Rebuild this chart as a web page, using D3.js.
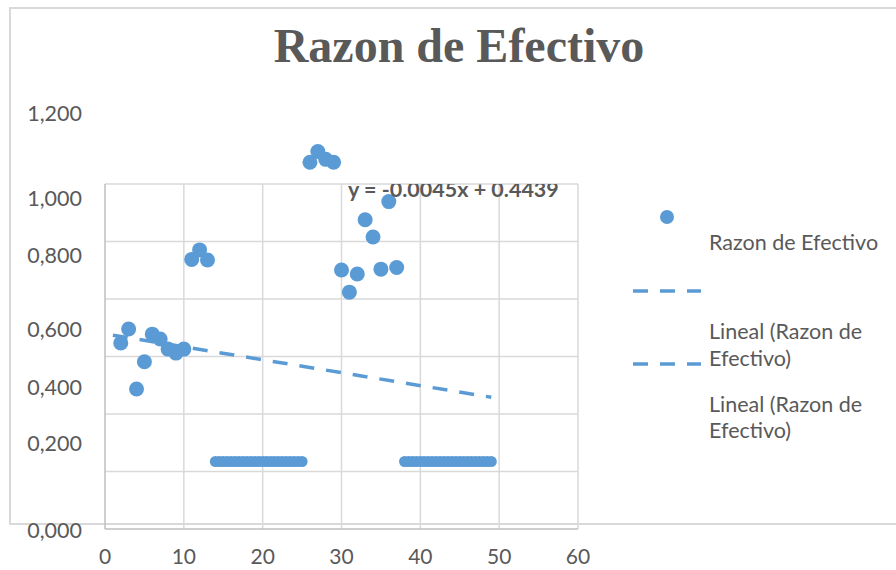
<!DOCTYPE html>
<html><head><meta charset="utf-8">
<script src="https://cdn.jsdelivr.net/npm/d3@7"></script>
<style>html,body{margin:0;padding:0;background:#fff;}svg{display:block;}</style>
</head><body>
<svg id="chart" width="896" height="570"></svg>
<script>
// ---- data ----
const title = "Razon de Efectivo";
const seriesName = "Razon de Efectivo";
const equation = "y = -0.0045x + 0.4439";
const trendSlope = -0.0045, trendIntercept = 0.4439;
const trendRange = [1, 49];
const pointX = [2,3,4,5,6,7,8,9,10,11,12,13,26,27,28,29,30,31,32,33,34,35,36,37];
const pointY = [0.412,0.461,0.252,0.347,0.443,0.426,0.391,0.377,0.391,0.703,0.736,0.701,
                1.041,1.078,1.051,1.041,0.666,0.589,0.652,0.841,0.781,0.669,0.904,0.675];
const zeroX = [14,14.5,15,15.5,16,16.5,17,17.5,18,18.5,19,19.5,20,20.5,21,21.5,22,22.5,23,23.5,24,24.5,25,
               38,38.5,39,39.5,40,40.5,41,41.5,42,42.5,43,43.5,44,44.5,45,45.5,46,46.5,47,47.5,48,48.5,49];
const zeroY = zeroX.map(() => 0);
const xTicks = [0,10,20,30,40,50,60];
const yTickValues = [0,0.2,0.4,0.6,0.8,1.0,1.2];
const yTickLabels = ["0,000","0,200","0,400","0,600","0,800","1,000","1,200"];
const trendLines = ["Lineal (Razon de", "Efectivo)"];

// ---- layout ----
const svg = d3.select("#chart");
const L = 105, R = 578, T = 184, B = 529;
const blue = "#5b9bd5", grey = "#595959";
const font = "Lato, 'Open Sans', sans-serif";
const fs = 21.5;

const x = d3.scaleLinear().domain([0, 60]).range([L, R]);
const yMin = -0.2348;
const y = d3.scaleLinear().domain([yMin, yMin + 1.2]).range([B, T]);
// tick labels sit at their own (offset) places in the reference
const yLab = d3.scaleLinear().domain(yTickValues).range([530, 443, 387, 329, 255, 198, 113]);

// outer chart frame
svg.append("rect").attr("x", 10).attr("y", 8).attr("width", 900).attr("height", 516)
  .attr("fill", "none").attr("stroke", "#d9d9d9").attr("stroke-width", 2);

// grid
const gridY = d3.range(0, 7).map(i => yMin + i * 0.2);
svg.append("g").selectAll("line.h").data(gridY.slice(1)).join("line")
  .attr("x1", L).attr("x2", R).attr("y1", d => y(d)).attr("y2", d => y(d))
  .attr("stroke", "#d9d9d9").attr("stroke-width", 1.5);
svg.append("g").selectAll("line.v").data(xTicks.slice(1)).join("line")
  .attr("x1", d => x(d)).attr("x2", d => x(d)).attr("y1", T).attr("y2", B)
  .attr("stroke", "#d9d9d9").attr("stroke-width", 1.5);
// axes lines
svg.append("line").attr("x1", L).attr("x2", R).attr("y1", B).attr("y2", B)
  .attr("stroke", "#bfbfbf").attr("stroke-width", 1.5);
svg.append("line").attr("x1", L).attr("x2", L).attr("y1", T).attr("y2", B)
  .attr("stroke", "#bfbfbf").attr("stroke-width", 1.5);

// tick labels
svg.append("g").selectAll("text").data(xTicks).join("text")
  .attr("x", d => x(d)).attr("y", 564).attr("text-anchor", "middle")
  .attr("font-family", font).attr("font-size", 21).attr("fill", grey).text(d => d);
svg.append("g").selectAll("text").data(yTickValues).join("text")
  .attr("x", 82).attr("y", d => yLab(d)).attr("dy", "0.35em").attr("text-anchor", "end")
  .attr("font-family", font).attr("font-size", fs).attr("fill", grey)
  .text((d, i) => yTickLabels[i]);

// title
svg.append("text").attr("x", 459).attr("y", 62).attr("text-anchor", "middle")
  .attr("font-family", "'Liberation Serif', 'Times New Roman', serif").attr("font-weight", "bold")
  .attr("font-size", 48).attr("fill", grey).text(title);

// trendline
svg.append("line")
  .attr("x1", x(trendRange[0])).attr("y1", y(trendSlope * trendRange[0] + trendIntercept))
  .attr("x2", x(trendRange[1])).attr("y2", y(trendSlope * trendRange[1] + trendIntercept))
  .attr("stroke", blue).attr("stroke-width", 3.5).attr("stroke-dasharray", "15,12");

// points
svg.append("g").selectAll("circle").data(zeroX.map((d, i) => [d, zeroY[i]])).join("circle")
  .attr("cx", d => x(d[0])).attr("cy", d => y(d[1])).attr("r", 5.5).attr("fill", blue);
svg.append("g").selectAll("circle").data(pointX.map((d, i) => [d, pointY[i]])).join("circle")
  .attr("cx", d => x(d[0])).attr("cy", d => y(d[1])).attr("r", 7.5).attr("fill", blue);

// equation label (clipped at plot top)
svg.append("clipPath").attr("id", "plotclip").append("rect")
  .attr("x", L).attr("y", T).attr("width", R - L).attr("height", B - T);
svg.append("text").attr("clip-path", "url(#plotclip)")
  .attr("x", 348).attr("y", 197).attr("font-family", font).attr("font-weight", "bold")
  .attr("font-size", 21.5).attr("fill", grey).text(equation);

// legend
const lg = svg.append("g");
lg.append("circle").attr("cx", 667).attr("cy", 217).attr("r", 7).attr("fill", blue);
lg.append("text").attr("x", 709).attr("y", 242).attr("dy", "0.35em")
  .attr("font-family", font).attr("font-size", fs).attr("fill", grey).text(seriesName);
[291, 364].forEach(yy => {
  lg.append("line").attr("x1", 633).attr("x2", 701).attr("y1", yy).attr("y2", yy)
    .attr("stroke", blue).attr("stroke-width", 3.5).attr("stroke-dasharray", "15,12");
});
[[331, 358], [404, 430]].forEach(pos => {
  trendLines.forEach((t, i) => {
    lg.append("text").attr("x", 709).attr("y", pos[i]).attr("dy", "0.35em")
      .attr("font-family", font).attr("font-size", fs).attr("fill", grey).text(t);
  });
});
</script>
</body></html>
